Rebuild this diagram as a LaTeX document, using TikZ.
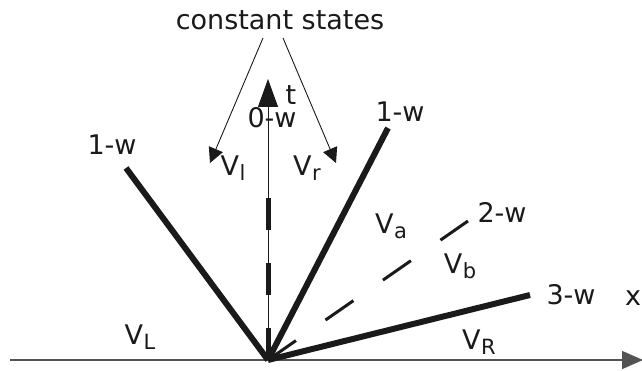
\documentclass[tikz,border=0pt]{standalone}
\usepackage{fontspec}
\setmainfont{DejaVu Sans}
\usetikzlibrary{arrows.meta}
\definecolor{ink}{HTML}{1A1A1A}
\newcommand{\Vsub}[1]{V\kern0.5pt\raisebox{-0.35ex}{\fontsize{21}{23}\selectfont #1}}
\begin{document}
\begin{tikzpicture}[x=1pt,y=-1pt,
  lbl/.style={text=ink,inner sep=0pt,font=\fontsize{27}{31}\selectfont},
  wave/.style={draw=ink,line width=6pt},
  axis/.style={draw=ink!75,line width=1.4pt},
  thinarrow/.style={draw=ink,line width=0.9pt,-{Triangle[length=15pt,width=15pt]}}]
\useasboundingbox (0,0) rectangle (642,371);
\coordinate (O) at (268,360);
\coordinate (xs) at (10,360);
\coordinate (xe) at (643,360);
\coordinate (te) at (268,79);
\coordinate (td) at (268,165);
\coordinate (L1) at (126,168);
\coordinate (R1) at (388,128);
\coordinate (R2) at (468,221);
\coordinate (R3) at (530,295);
% axes
\draw[axis,-{Triangle[length=21pt,width=18pt]}] (xs) -- (xe);
\draw[draw=ink,line width=1pt,-{Triangle[length=28pt,width=20pt]}] (O) -- (te);
\draw[draw=ink,line width=5pt,dash pattern=on 32pt off 33pt] (O) -- (td);
% waves
\draw[wave] (O) -- (L1);
\draw[wave] (O) -- (R1);
\draw[wave] (O) -- (R3);
\draw[draw=ink,line width=3pt,dash pattern=on 34pt off 36pt] (O) -- (R2);
% labels
\node[lbl] (cs) at (280,20) {constant states};
\coordinate (al) at (210,163);
\coordinate (ar) at (336,163);
\coordinate (sl) at (263,38);
\coordinate (sr) at (283,38);
\draw[thinarrow] (sl) -- (al);
\draw[thinarrow] (sr) -- (ar);
\node[lbl] (tl) at (291,95) {t};
\node[lbl] (w0) at (272,118) {0-w};
\node[lbl] (w1r) at (400,112) {1-w};
\node[lbl] (w1l) at (112,145) {1-w};
\node[lbl] (w2) at (502,212) {2-w};
\node[lbl] (w3) at (571,295) {3-w};
\node[lbl] (xl) at (633,298) {x};
\node[lbl] (vl) at (233,168) {\Vsub{l}};
\node[lbl] (vr) at (307,168) {\Vsub{r}};
\node[lbl] (va) at (391,226) {\Vsub{a}};
\node[lbl] (vb) at (460,266) {\Vsub{b}};
\node[lbl] (vL) at (140,337) {\Vsub{L}};
\node[lbl] (vR) at (479,342) {\Vsub{R}};
\end{tikzpicture}
\end{document}
